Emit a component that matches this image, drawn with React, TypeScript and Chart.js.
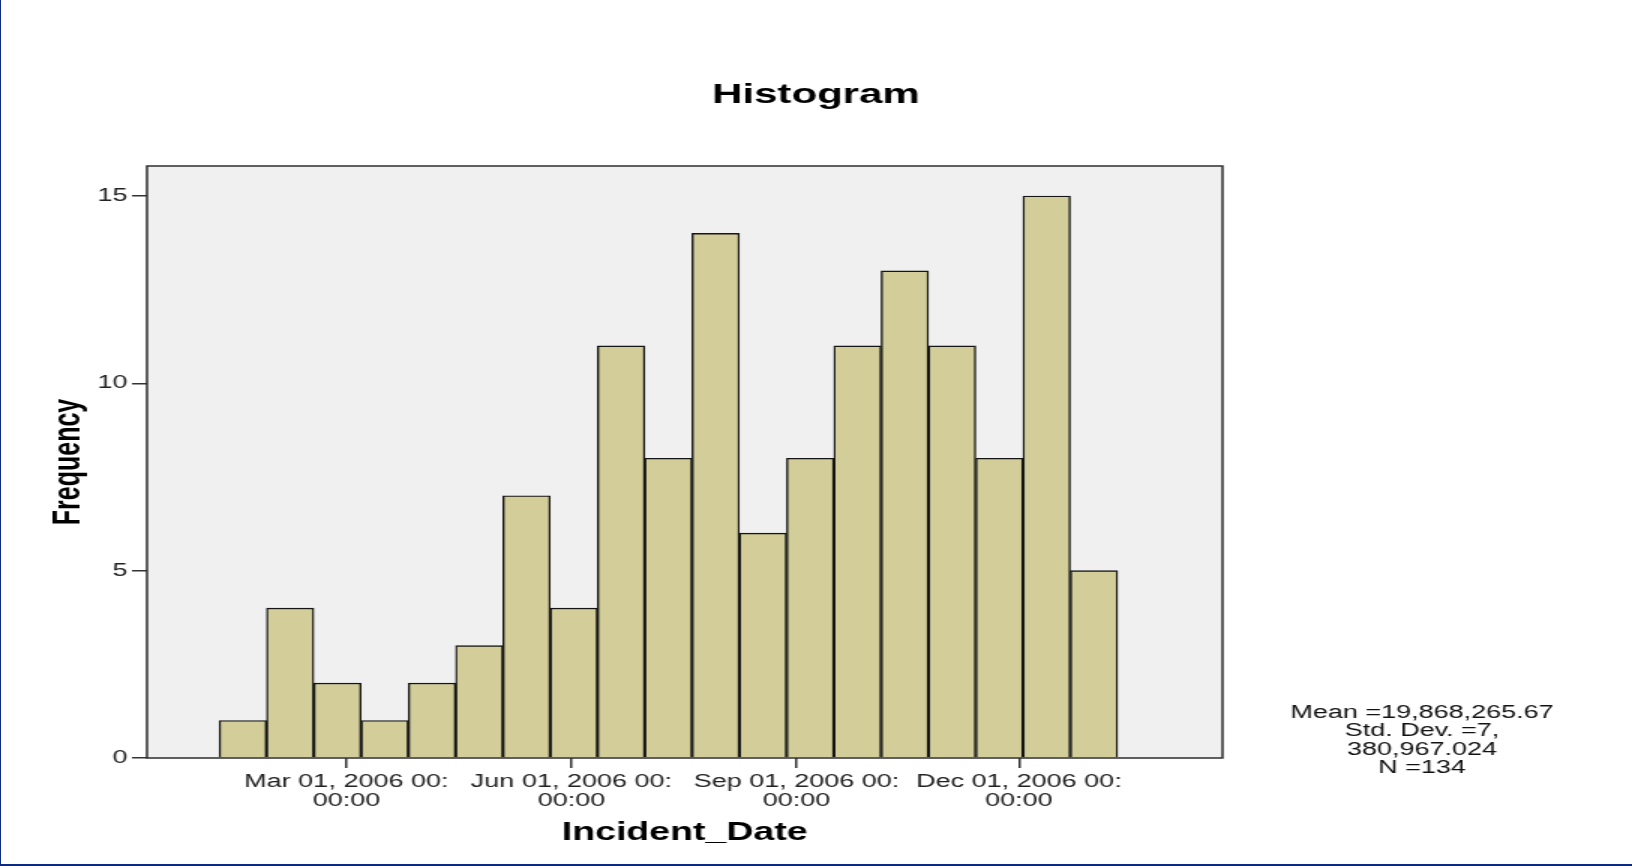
import React, { useEffect, useRef } from "react";
import { Chart, registerables } from "chart.js";

Chart.register(...registerables);

// Bin centres (days since Jan 01, 2006) and counts
const binCenters = [16.70, 36.03, 55.36, 74.69, 94.02, 113.35, 132.68, 152.01, 171.34, 190.67, 210.00, 229.33, 248.66, 267.99, 287.32, 306.65, 325.98, 345.31, 364.64];
const frequencies = [1, 4, 2, 1, 2, 3, 7, 4, 11, 8, 14, 6, 8, 11, 13, 11, 8, 15, 5];

// X tick positions (days since Jan 01, 2006) and their labels
const xTickValues = [59, 151, 243, 334];
const xTickLabels = [
  ["Mar 01, 2006 00:", "00:00"],
  ["Jun 01, 2006 00:", "00:00"],
  ["Sep 01, 2006 00:", "00:00"],
  ["Dec 01, 2006 00:", "00:00"],
];
const yTickValues = [0, 5, 10, 15];

const statsLines = ["Mean =19,868,265.67", "Std. Dev. =7,", "380,967.024", "N =134"];

const FONT = '"Liberation Sans", Arial, sans-serif';
const LOGICAL_W = 1088;
const LOGICAL_H = 866;

const framePlugin = {
  id: "spssFrame",
  beforeDraw(chart: any) {
    const { ctx, chartArea } = chart;
    const { left, top, right, bottom } = chartArea;
    ctx.save();
    ctx.fillStyle = "#ffffff";
    ctx.fillRect(0, 0, chart.width, chart.height);
    ctx.fillStyle = "#f0f0f0";
    ctx.fillRect(left, top, right - left, bottom - top);
    ctx.restore();
  },
  afterDraw(chart: any) {
    const { ctx, chartArea } = chart;
    const { left, top, right, bottom } = chartArea;
    ctx.save();
    ctx.strokeStyle = "#2e2e2e";
    ctx.lineWidth = 1.5;
    ctx.strokeRect(left, top, right - left, bottom - top);
    ctx.fillStyle = "#111111";
    ctx.font = `18px ${FONT}`;
    ctx.textAlign = "center";
    ctx.textBaseline = "alphabetic";
    statsLines.forEach((line, i) => {
      ctx.fillText(line, 948, 718 + i * 18.3);
    });
    ctx.restore();
  },
};

export default function App() {
  const canvasRef = useRef<HTMLCanvasElement | null>(null);

  useEffect(() => {
    document.body.style.margin = "0";
    const canvas = canvasRef.current;
    if (!canvas) return;
    const chart = new Chart(canvas, {
      type: "bar",
      data: {
        datasets: [
          {
            label: "Frequency",
            data: binCenters.map((x, i) => ({ x, y: frequencies[i] })),
            backgroundColor: "#d3ce99",
            borderColor: "#151515",
            borderWidth: 1.4,
            barPercentage: 1,
            categoryPercentage: 1,
          },
        ],
      },
      options: {
        responsive: false,
        animation: false,
        devicePixelRatio: 1,
        layout: { padding: { top: 0, left: 0, right: 0, bottom: 0 } },
        plugins: {
          legend: { display: false },
          tooltip: { enabled: false },
          title: {
            display: true,
            text: "Histogram",
            color: "#000000",
            font: { family: FONT, size: 28, weight: "bold", lineHeight: 1.2 },
            padding: { top: 78.5, bottom: 53.9 },
          },
        },
        scales: {
          x: {
            type: "linear",
            min: -22.5,
            max: 417.2,
            offset: false,
            afterBuildTicks: (scale: any) => {
              scale.ticks = xTickValues.map((v) => ({ value: v }));
            },
            afterFit: (scale: any) => {
              scale.height = 108;
            },
            ticks: {
              autoSkip: false,
              maxRotation: 0,
              minRotation: 0,
              padding: 4.75,
              color: "#222222",
              font: { family: FONT, size: 18, lineHeight: 1.05 },
              callback: (value: any) => {
                const idx = xTickValues.indexOf(Number(value));
                return idx >= 0 ? xTickLabels[idx] : "";
              },
            },
            grid: {
              display: true,
              drawOnChartArea: false,
              drawTicks: true,
              tickLength: 10,
              color: "#333333",
              lineWidth: 1.5,
              offset: false,
            },
            border: { display: false },
            title: {
              display: true,
              text: "Incident_Date",
              color: "#000000",
              font: { family: FONT, size: 25, weight: "bold", lineHeight: 1.2 },
              padding: { top: 0, bottom: 17.7 },
            },
          },
          y: {
            type: "linear",
            position: "left",
            min: 0,
            max: 15.8,
            afterBuildTicks: (scale: any) => {
              scale.ticks = yTickValues.map((v) => ({ value: v }));
            },
            afterFit: (scale: any) => {
              scale.width = 98;
            },
            ticks: {
              padding: 3,
              color: "#222222",
              font: { family: FONT, size: 18 },
            },
            grid: {
              display: true,
              drawOnChartArea: false,
              drawTicks: true,
              tickLength: 10,
              color: "#333333",
              lineWidth: 1.5,
            },
            border: { display: false },
            title: {
              display: true,
              text: "Frequency",
              color: "#000000",
              font: { family: FONT, size: 25, weight: "bold", lineHeight: 1.2 },
              padding: { top: 30.7, bottom: 0 },
            },
          },
          side: {
            type: "linear",
            position: "right",
            display: true,
            min: 0,
            max: 1,
            ticks: { display: false },
            grid: { display: false, drawTicks: false },
            border: { display: false },
            afterFit: (scale: any) => {
              scale.width = 273;
            },
          },
        },
      } as any,
      plugins: [framePlugin],
    });
    return () => {
      chart.destroy();
    };
  }, []);

  return (
    <div style={{ position: "relative", width: "1632px", height: "866px", overflow: "hidden", background: "#ffffff" }}>
      <canvas
        ref={canvasRef}
        width={LOGICAL_W}
        height={LOGICAL_H}
        style={{ display: "block", width: "1632px", height: "866px" }}
      />
      <div
        style={{
          position: "absolute",
          left: 0,
          top: 0,
          width: "1632px",
          height: "866px",
          boxSizing: "border-box",
          borderLeft: "1px solid #0c2a7f",
          borderBottom: "2px solid #0c2a7f",
          pointerEvents: "none",
        }}
      />
    </div>
  );
}
